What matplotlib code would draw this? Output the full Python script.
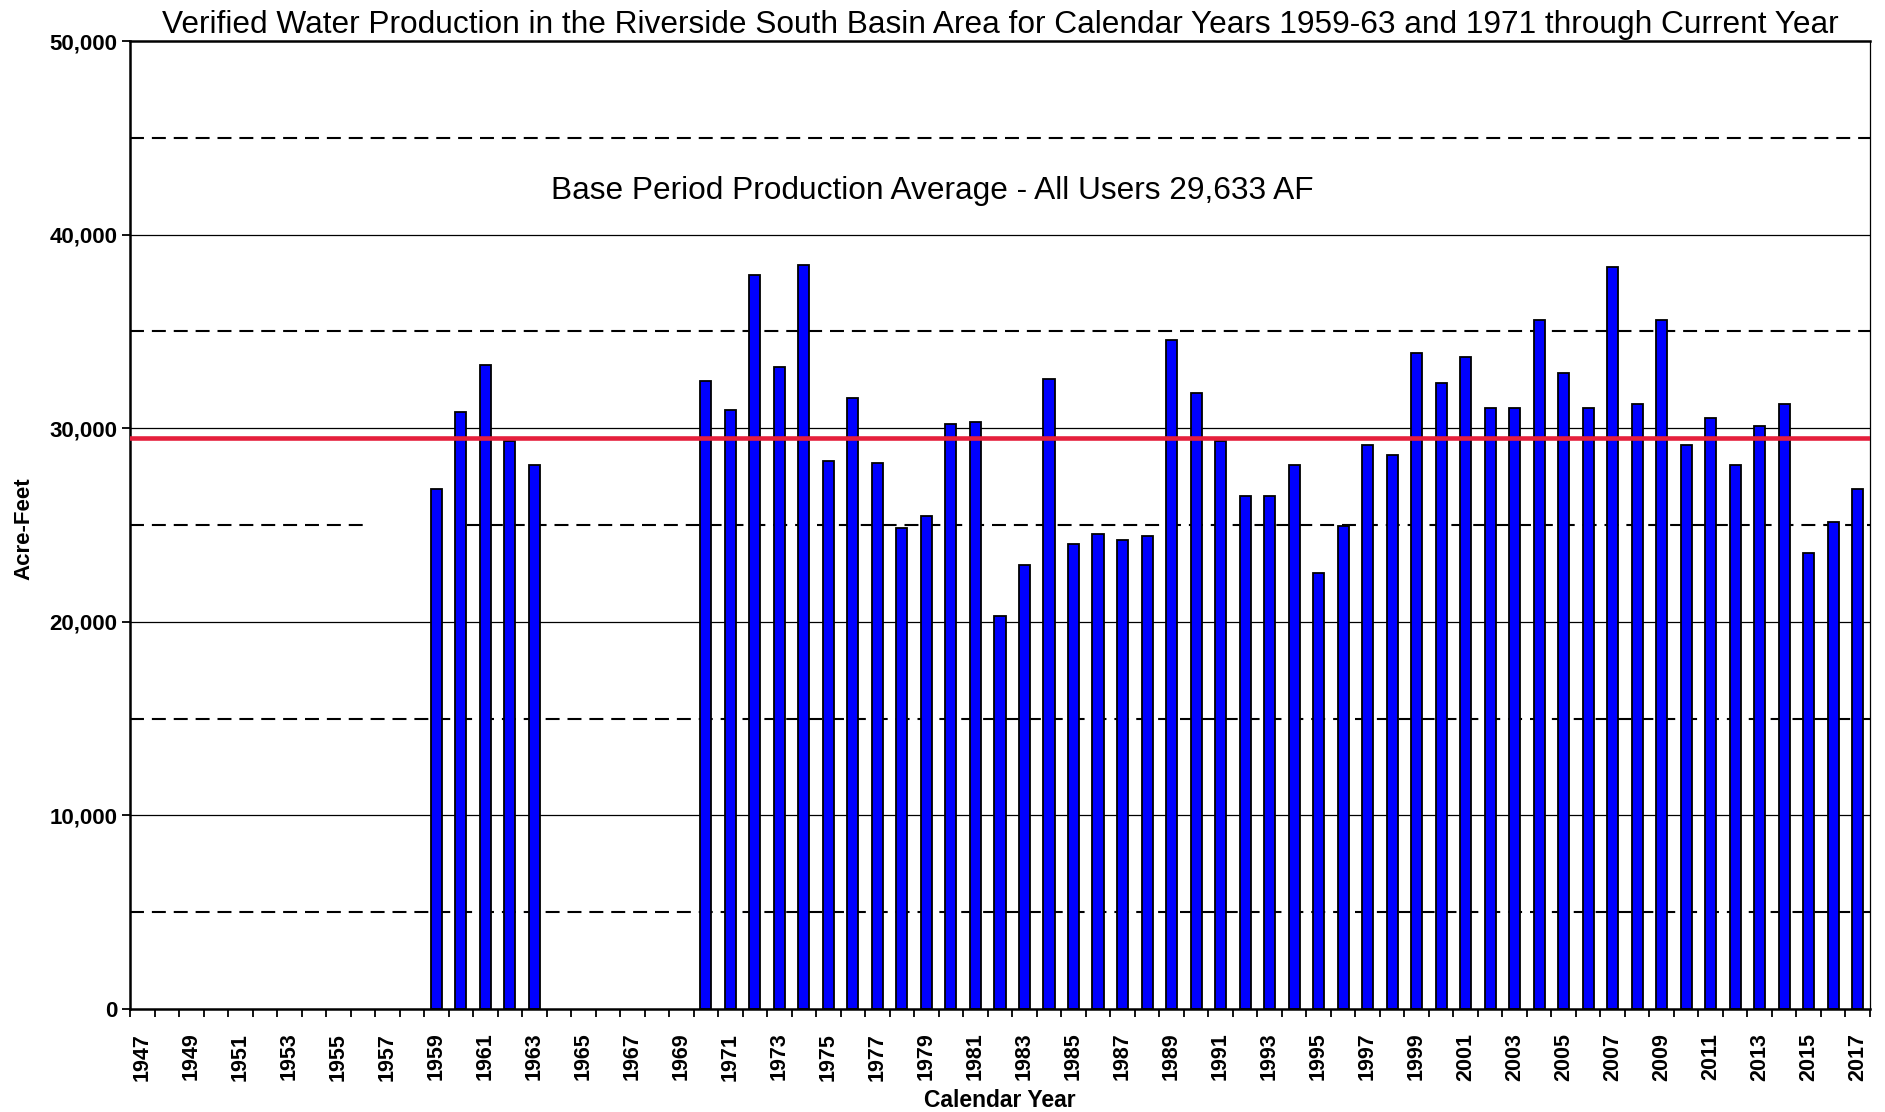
import matplotlib
matplotlib.use("Agg")
import matplotlib.pyplot as plt
import numpy as np

# bar years and verified production (acre-feet)
years = [1959, 1960, 1961, 1962, 1963,
         1970, 1971, 1972, 1973, 1974, 1975, 1976, 1977, 1978, 1979,
         1980, 1981, 1982, 1983, 1984, 1985, 1986, 1987, 1988, 1989,
         1990, 1991, 1992, 1993, 1994, 1995, 1996, 1997, 1998, 1999,
         2000, 2001, 2002, 2003, 2004, 2005, 2006, 2007, 2008, 2009,
         2010, 2011, 2012, 2013, 2014, 2015, 2016, 2017]
production = [26850, 30850, 33270, 29340, 28090,
              32420, 30950, 37900, 33170, 38450, 28320, 31570, 28210, 24850, 25480,
              30220, 30330, 20310, 22960, 32530, 24000, 24520, 24210, 24420, 34540,
              31800, 29320, 26520, 26520, 28090, 22530, 24960, 29150, 28630, 33900,
              32320, 33690, 31050, 31050, 35590, 32840, 31050, 38310, 31260, 35590,
              29150, 30520, 28090, 30100, 31260, 23570, 25150, 26850]

first_year = 1947
last_year = 2017
base_avg_line = 29480   # where the red line sits on the chart
base_label = "Base Period Production Average - All Users 29,633 AF"
title = ("Verified Water Production in the Riverside South Basin Area for "
         "Calendar Years 1959-63 and 1971 through Current Year")

solid_levels = [10000, 20000, 30000, 40000]
dashed_levels = [5000, 15000, 35000, 45000]

plt.rcParams['font.family'] = ['Liberation Sans', 'DejaVu Sans']

fig = plt.figure(figsize=(18.85, 11.12), dpi=100)
ax = fig.add_axes([0.069, 0.0926, 0.923, 0.8705])

lo = first_year - 0.5
hi = last_year + 0.5

for lev in solid_levels:
    ax.axhline(lev, color='black', lw=0.9, zorder=1)
dash_kw = dict(colors='black', linewidths=1.5, linestyles=(0, (6.7, 3.8)), zorder=1)
for lev in dashed_levels:
    ax.hlines(lev, lo, hi, **dash_kw)
# the 25,000 line has a gap on the chart between about 1956 and 1960
ax.hlines(25000, lo, 1956.2, **dash_kw)
ax.hlines(25000, 1960.26, hi, **dash_kw)

ax.bar(years, production, width=0.45, color='#0000FF', edgecolor='black',
       linewidth=1.3, zorder=2)

ax.axhline(base_avg_line, color='#E51F3C', lw=3.3, zorder=3)

ax.text(0.461, 0.845, base_label, transform=ax.transAxes, ha='center',
        va='center', fontsize=22.8)

ax.set_xlim(lo, hi)
ax.set_ylim(0, 50000)

label_years = list(range(first_year, last_year + 1, 2))
ax.set_xticks(label_years)
ax.set_xticklabels([str(y) for y in label_years], rotation=90,
                   fontsize=15.5, fontweight='bold')
ax.set_xticks(np.arange(lo, hi + 0.5, 1.0), minor=True)
ax.tick_params(axis='x', which='major', length=0, pad=17)
ax.tick_params(axis='x', which='minor', length=6, width=1.3, direction='out')

ax.set_yticks(range(0, 50001, 10000))
ax.set_yticklabels([f"{v:,}" for v in range(0, 50001, 10000)],
                   fontsize=16, fontweight='bold')
ax.tick_params(axis='y', length=6, width=1.3, pad=3)

for side in ['left', 'bottom', 'top']:
    ax.spines[side].set_linewidth(1.8)
ax.spines['right'].set_linewidth(0.9)

ax.set_xlabel("Calendar Year", fontsize=16.5, fontweight='bold')
ax.xaxis.set_label_coords(0.5, -0.095)
ax.xaxis.label.set_va('center')
ax.set_ylabel("Acre-Feet", fontsize=16, fontweight='bold')
ax.yaxis.set_label_coords(-0.061, 0.496)
ax.yaxis.label.set_va('center')

ax.set_title(title, fontsize=22.8, pad=6)

fig.savefig("out.png", dpi=100)
